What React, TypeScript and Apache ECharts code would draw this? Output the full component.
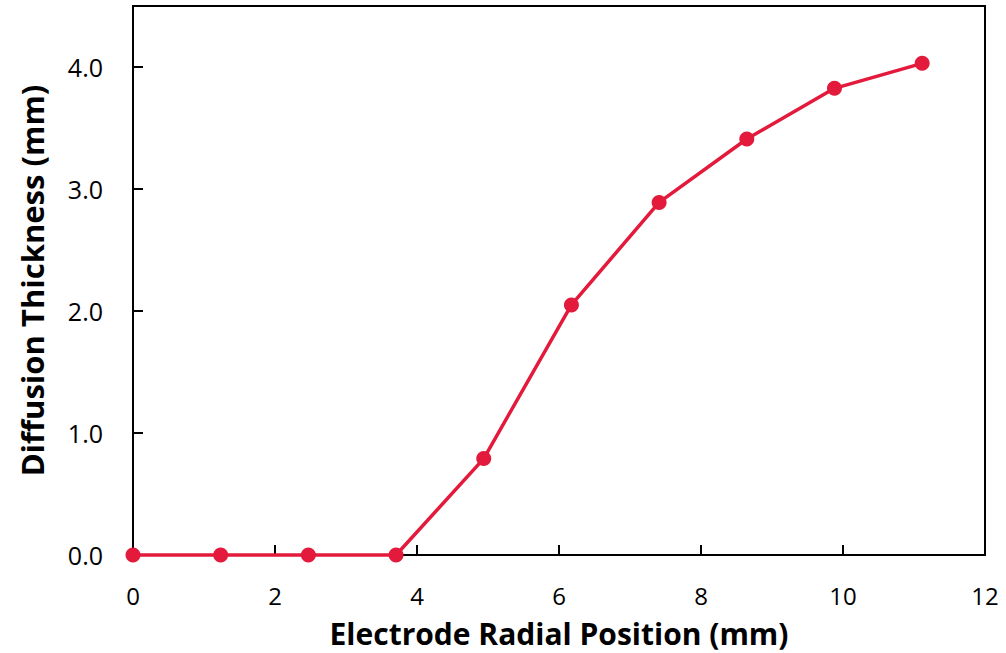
import React, { useEffect, useRef } from "react";
import * as echarts from "echarts";

const xValues = [0, 1.235, 2.47, 3.705, 4.94, 6.175, 7.41, 8.645, 9.88, 11.115];
const thickness = [0, 0, 0, 0, 0.79, 2.05, 2.89, 3.41, 3.825, 4.03];
const xTitle = "Electrode Radial Position (mm)";
const yTitle = "Diffusion Thickness (mm)";

export default function App() {
  const ref = useRef<HTMLDivElement>(null);
  useEffect(() => {
    if (!ref.current) return;
    const chart = echarts.init(ref.current, null, { renderer: "svg" });
    const font = "'Open Sans', 'Noto Sans', sans-serif";
    chart.setOption({
      animation: false,
      backgroundColor: "#fff",
      grid: {
        left: 133,
        top: 6,
        right: 21,
        bottom: 96,
        show: true,
        borderColor: "#000",
        borderWidth: 2,
        backgroundColor: "transparent",
      },
      xAxis: {
        type: "value",
        min: 0,
        max: 12,
        interval: 2,
        name: xTitle,
        nameLocation: "middle",
        nameGap: 63,
        nameTextStyle: { fontFamily: font, fontWeight: "bold", fontSize: 30, color: "#000" },
        axisLine: { show: true, lineStyle: { color: "#000", width: 2 } },
        axisTick: { show: true, inside: true, length: 10, lineStyle: { color: "#000", width: 2 } },
        axisLabel: { fontFamily: font, fontSize: 24, color: "#000", margin: 28 },
        splitLine: { show: false },
      },
      yAxis: {
        type: "value",
        min: 0,
        max: 4.5,
        interval: 1,
        name: yTitle,
        nameLocation: "middle",
        nameGap: 86,
        nameTextStyle: { fontFamily: font, fontWeight: "bold", fontSize: 31, color: "#000" },
        axisLine: { show: true, lineStyle: { color: "#000", width: 2 } },
        axisTick: { show: true, inside: true, length: 10, lineStyle: { color: "#000", width: 2 } },
        axisLabel: {
          fontFamily: font,
          fontSize: 25,
          color: "#000",
          margin: 30,
          showMaxLabel: false,
          formatter: (v: number) => (v > 4.01 ? "" : v.toFixed(1)),
        },
        splitLine: { show: false },
      },
      series: [
        {
          type: "line",
          data: xValues.map((x, i) => [x, thickness[i]]),
          symbol: "circle",
          symbolSize: 15,
          lineStyle: { color: "#E31A3B", width: 3.5 },
          itemStyle: { color: "#E31A3B" },
          clip: false,
        },
      ],
    });
    return () => chart.dispose();
  }, []);
  return <div ref={ref} style={{ width: 1006, height: 653, position: "absolute", left: 0, top: 0 }} />;
}
